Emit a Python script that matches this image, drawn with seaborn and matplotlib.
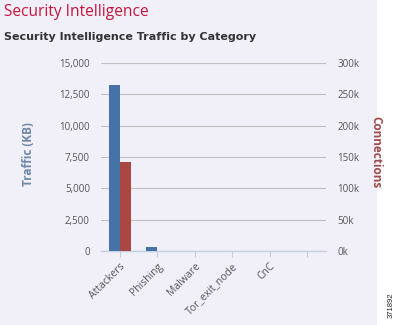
import matplotlib
matplotlib.use("Agg")
import matplotlib.pyplot as plt
import matplotlib.ticker as mticker
from matplotlib.patches import Rectangle
import seaborn as sns
import pandas as pd

categories = ["Attackers", "Phishing", "Malware", "Tor_exit_node", "CnC", " "]
traffic_kb = [13250, 350, 0, 0, 0, 0]
connections = [142500, 0, 0, 0, 0, 0]
series = ["Traffic (KB)", "Connections"]
colors = ["#4572a7", "#aa4643"]

sns.set_theme(style="white")
plt.rcParams["font.family"] = ["Open Sans", "DejaVu Sans"]

bg = "#f1eff8"
fig = plt.figure(figsize=(3.99, 3.25), dpi=100)
fig.patch.set_facecolor("white")
fig.patches.append(Rectangle((0, 0), 377 / 399, 1, transform=fig.transFigure,
                             facecolor=bg, edgecolor="none", zorder=-10))

ax1 = fig.add_axes([101 / 399, (325 - 251) / 325, 225 / 399, 188 / 325])
ax1.set_facecolor("none")
ax2 = ax1.twinx()
ax2.set_facecolor("none")

df1 = pd.DataFrame({"cat": categories * 2,
                    "series": [series[0]] * len(categories) + [series[1]] * len(categories),
                    "val": traffic_kb + [0] * len(categories)})
df2 = pd.DataFrame({"cat": categories * 2,
                    "series": [series[0]] * len(categories) + [series[1]] * len(categories),
                    "val": [0] * len(categories) + connections})

sns.barplot(data=df1, x="cat", y="val", hue="series", hue_order=series, order=categories,
            palette=colors, saturation=1, width=0.58, linewidth=0, ax=ax1, legend=False, zorder=3)
sns.barplot(data=df2, x="cat", y="val", hue="series", hue_order=series, order=categories,
            palette=colors, saturation=1, width=0.58, linewidth=0, ax=ax2, legend=False, zorder=3)

ax1.set_xlim(-0.5, len(categories) - 0.5)
ax1.set_ylim(0, 15000)
ax2.set_ylim(0, 300000)
ax1.set_yticks(range(0, 15001, 2500))
ax2.set_yticks(range(0, 300001, 50000))
ax1.yaxis.set_major_formatter(mticker.FuncFormatter(lambda v, p: f"{int(v):,}"))
ax2.yaxis.set_major_formatter(mticker.FuncFormatter(lambda v, p: f"{int(v/1000)}k"))

ax1.grid(axis="y", color="#c0c0c0", linewidth=0.8, zorder=0)
ax1.set_axisbelow(True)
for ax in (ax1, ax2):
    for s in ax.spines.values():
        s.set_visible(False)
ax1.spines["bottom"].set_visible(True)
ax1.spines["bottom"].set_color("#c0d0e0")
ax1.spines["bottom"].set_linewidth(1)

ax1.tick_params(axis="y", length=0, pad=8, labelsize=7, labelcolor="#555555")
ax2.tick_params(axis="y", length=0, pad=8, labelsize=7, labelcolor="#555555")
ax1.tick_params(axis="x", length=4, color="#c0d0e0", width=0.8, pad=3,
                labelsize=7.5, labelcolor="#555555", bottom=True)
ax1.set_xticks(range(len(categories)))
ax1.set_xticklabels(categories, rotation=45, ha="right", rotation_mode="anchor")

ax1.set_xlabel("")
ax1.set_ylabel("")
ax2.set_ylabel("")
fig.text(29 / 399, 1 - 154 / 325, "Traffic (KB)", rotation=90, ha="center", va="center",
         fontsize=8.5, fontweight="bold", color="#6d87a8")
fig.text(376 / 399, 1 - 152 / 325, "Connections", rotation=270, ha="center", va="center",
         fontsize=8.5, fontweight="bold", color="#a24a4a")

fig.text(4 / 399, 1 - 12 / 325, "Security Intelligence", ha="left", va="center",
         fontsize=11.2, color="#c8143c")
fig.text(4 / 399, 1 - 37 / 325, "Security Intelligence Traffic by Category", ha="left",
         va="center", fontsize=8, fontweight="bold", color="#333333",
         family=["DejaVu Sans"])
fig.text(391 / 399, 1 - 305 / 325, "371892", rotation=90, ha="center", va="center",
         fontsize=5.5, color="#222222", family=["Liberation Sans", "DejaVu Sans"])

fig.savefig("out.png", dpi=100, facecolor=fig.get_facecolor())
